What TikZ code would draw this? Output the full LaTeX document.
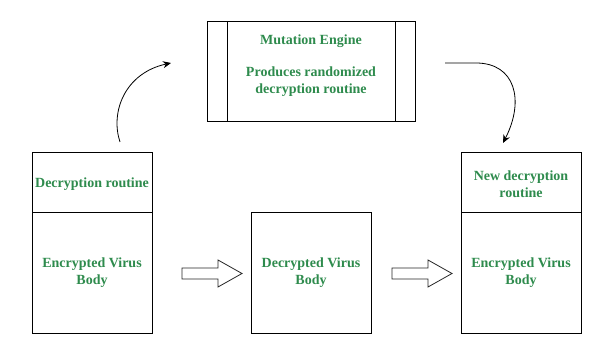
\documentclass[tikz,border=0pt]{standalone}
\usepackage{fontspec}
\setmainfont{Liberation Serif}
\usetikzlibrary{arrows.meta}
\definecolor{txtgreen}{RGB}{46,139,77}
\begin{document}
\begin{tikzpicture}[x=1pt,y=-1pt,
  box/.style={draw=black,line width=1pt},
  lbl/.style={text=txtgreen,font=\fontsize{14}{17}\selectfont\bfseries,align=center,inner sep=0pt},
  curvearrow/.style={draw=black,line width=0.8pt,-{Stealth[length=8pt,width=7pt]}},
  blockarrow/.style={draw=black!85,line width=0.8pt,fill=white,line join=miter}]
\useasboundingbox (0,0) rectangle (604,363);
% Mutation engine
\draw[box] (207,22) rectangle (415,122);
\draw[box] (227,22) -- (227,122);
\draw[box] (395,22) -- (395,122);
\node[lbl] (me) at (311,41) {Mutation Engine};
\node[lbl] (prod) at (311,82) {Produces randomized\\decryption routine};
% left block
\draw[box] (32,153) rectangle (152,333);
\draw[box] (32,213) -- (152,213);
\node[lbl] (dr) at (92,184) {Decryption routine};
\node[lbl] (evb1) at (92,273) {Encrypted Virus\\Body};
% middle
\draw[box] (251,213) rectangle (371,333);
\node[lbl] (dvb) at (311,273) {Decrypted Virus\\Body};
% right block
\draw[box] (461,153) rectangle (581,333);
\draw[box] (461,213) -- (581,213);
\node[lbl] (ndr) at (521,184) {New decryption\\routine};
\node[lbl] (evb2) at (521,273) {Encrypted Virus\\Body};
% block arrows
\draw[blockarrow] (182,268) -- (218,268) -- (218,260) -- (242,273.5) -- (218,287) -- (218,279) -- (182,279) -- cycle;
\draw[blockarrow] (392,268) -- (428,268) -- (428,260) -- (452,273.5) -- (428,287) -- (428,279) -- (392,279) -- cycle;
% curved arrows
\coordinate (c1s) at (120,142);
\coordinate (c1e) at (171,63);
\coordinate (c2s) at (445,63);
\coordinate (c2e) at (503,143);
\draw[curvearrow] (c1s) .. controls (110,112) and (125,73) .. (c1e);
\draw[curvearrow] (c2s) -- (476,63) .. controls (515,63) and (525,100) .. (c2e);
\end{tikzpicture}
\end{document}
